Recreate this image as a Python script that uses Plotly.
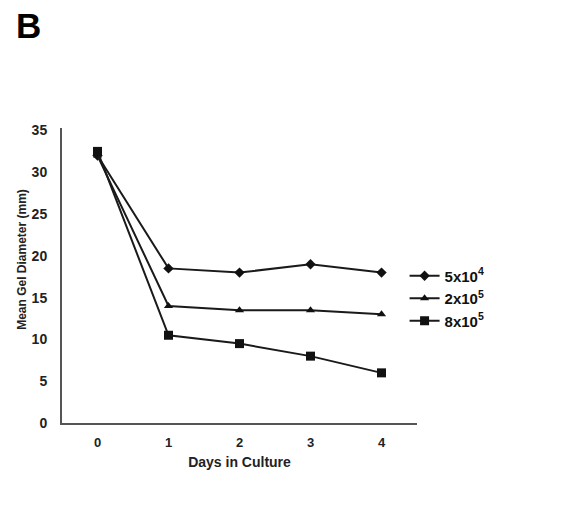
import plotly.graph_objects as go

days = [0, 1, 2, 3, 4]
s_5e4 = [32.0, 18.5, 18.0, 19.0, 18.0]
s_2e5 = [32.0, 14.0, 13.5, 13.5, 13.0]
s_8e5 = [32.5, 10.5, 9.5, 8.0, 6.0]
names = ["5x10<sup>4</sup>", "2x10<sup>5</sup>", "8x10<sup>5</sup>"]
symbols = ["diamond", "triangle-up", "square"]
sizes = [8, 8, 9]
x_ticks = [0, 1, 2, 3, 4]
y_ticks = [0, 5, 10, 15, 20, 25, 30, 35]

FONT = "Liberation Sans, Arial, sans-serif"
fig = go.Figure()
for vals, nm, sym, sz in zip([s_5e4, s_2e5, s_8e5], names, symbols, sizes):
    fig.add_trace(go.Scatter(
        x=days, y=vals, mode="lines+markers", name=nm,
        line=dict(color="#1a1a1a", width=2),
        marker=dict(symbol=sym, size=sz, color="#111111"),
    ))

fig.update_layout(
    width=576, height=510,
    margin=dict(l=54, r=167, t=120, b=95, autoexpand=False),
    paper_bgcolor="white", plot_bgcolor="white",
    font=dict(family=FONT, color="#222222"),
    showlegend=True,
    legend=dict(x=0.965, xanchor="left", y=0.422, yanchor="middle",
                font=dict(size=15, family=FONT, color="#111111", weight="bold"),
                itemwidth=30, tracegroupgap=0, bgcolor="rgba(0,0,0,0)"),
    xaxis=dict(range=[-0.5, 4.5], tickvals=x_ticks, showgrid=False, zeroline=False,
               showline=True, linecolor="#555555", linewidth=2, ticks="",
               automargin=False,
               tickfont=dict(size=13, family=FONT, color="#222222", weight="bold"),
               ticklabelstandoff=6,
               title=dict(text="Days in Culture", font=dict(size=14, family=FONT, color="#222222", weight="bold"), standoff=9)),
    yaxis=dict(range=[0, 35.3], tickvals=y_ticks, showgrid=False, zeroline=False,
               showline=True, linecolor="#555555", linewidth=2, ticks="",
               automargin=False,
               tickfont=dict(size=14, family=FONT, color="#222222", weight="bold"),
               ticklabelstandoff=10),
)
fig.add_annotation(text="Mean Gel Diameter (mm)", xref="paper", yref="paper",
                   x=0, y=0.553, xshift=-40, xanchor="center", yanchor="middle",
                   textangle=-90, showarrow=False,
                   font=dict(size=12, family=FONT, color="#222222", weight="bold"))
fig.add_annotation(text="B", xref="paper", yref="paper", x=-0.14, y=1.0,
                   xshift=2, yshift=124, xanchor="left", yanchor="top", showarrow=False,
                   font=dict(size=35, family=FONT, color="black", weight="bold"))
fig.write_html("out.html")
